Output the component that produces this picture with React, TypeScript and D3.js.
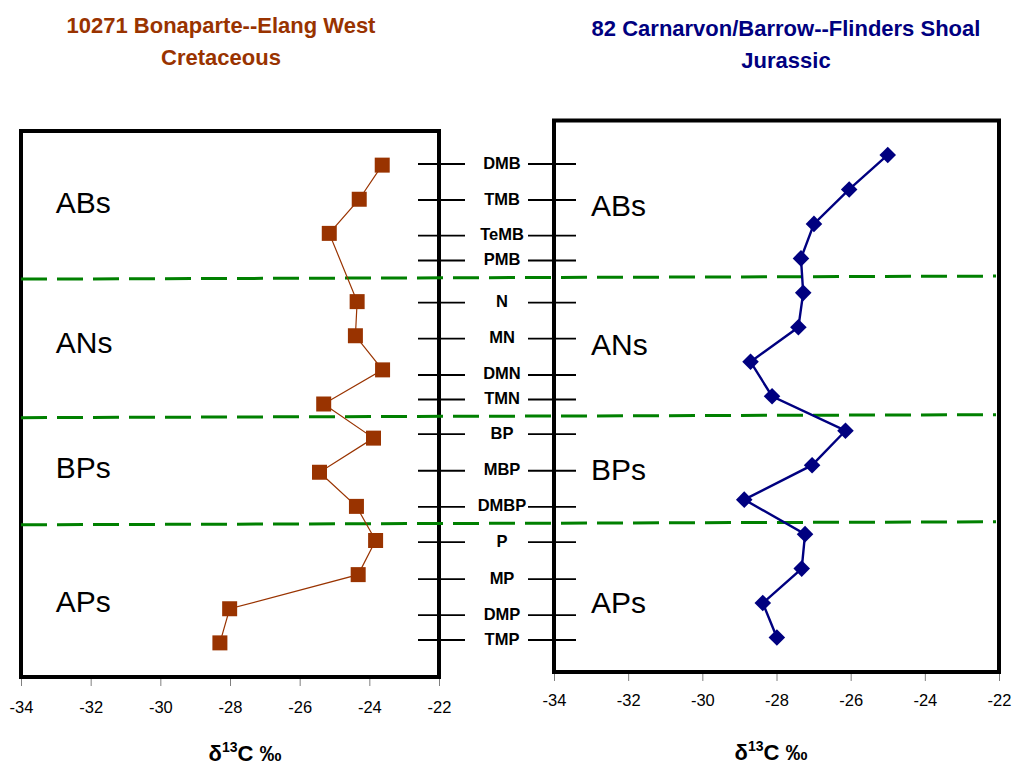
import * as d3 from "d3";
import React, { useRef, useEffect } from "react";

// stratigraphic stages, top to bottom
const stages = ["DMB", "TMB", "TeMB", "PMB", "N", "MN", "DMN", "TMN", "BP", "MBP", "DMBP", "P", "MP", "DMP", "TMP"];
// where each stage label sits in the middle column
const stagePos = [0, 1, 1.99, 2.68, 3.85, 4.85, 5.86, 6.54, 7.5, 8.52, 9.52, 10.5, 11.53, 12.53, 13.22];

// d13C values (null = no sample)
const bonaparte = [-23.63, -24.29, -25.15, null, -24.35, -24.4, -23.62, -25.31, -23.88, -25.43, -24.37, -23.82, -24.32, -28.01, -28.29];
const carnarvon = [-25.0, -26.04, -26.99, -27.34, -27.28, -27.41, -28.7, -28.12, -26.14, -27.04, -28.87, -27.23, -27.32, -28.37, -27.99];

const xTicks = [-34, -32, -30, -28, -26, -24, -22];

const zones = ["ABs", "ANs", "BPs", "APs"];
const zoneLabelLeft = [2.4, 6.51, 10.18, 14.1];
const zoneLabelRight = [2.77, 6.8, 10.43, 14.29];
const zoneBounds = [4.34, 8.4, 11.54];

const FONT = "Arial, 'Liberation Sans', sans-serif";

function App() {
    const ref = useRef(null);

    useEffect(() => {
        const svg = d3.select(ref.current);
        svg.selectAll("*").remove();

        const panels = [
            {
                values: bonaparte, xr: [21, 439], yr: [131, 677], color: "#993300",
                title: ["10271 Bonaparte--Elang West", "Cretaceous"], titleX: 221, titleY: 33,
                labelY: zoneLabelLeft, tickPad: 17, axisTitleX: 245, axisTitleY: 761,
                marker: d3.symbol().type(d3.symbolSquare).size(225), lineW: 1.2
            },
            {
                values: carnarvon, xr: [554, 999], yr: [120.5, 672], color: "#000080",
                title: ["82 Carnarvon/Barrow--Flinders Shoal", "Jurassic"], titleX: 786, titleY: 36,
                labelY: zoneLabelRight, tickPad: 15, axisTitleX: 771, axisTitleY: 760,
                marker: d3.symbol().type(d3.symbolDiamond2).size(175), lineW: 2.4
            }
        ];

        const scales = panels.map(p => ({
            x: d3.scaleLinear().domain([-34, -22]).range(p.xr),
            y: d3.scaleLinear().domain([0, 16]).range(p.yr)
        }));

        // frames + axes + titles
        panels.forEach((p, k) => {
            const { x, y } = scales[k];
            const g = svg.append("g");

            g.append("rect")
                .attr("x", p.xr[0]).attr("y", p.yr[0])
                .attr("width", p.xr[1] - p.xr[0]).attr("height", p.yr[1] - p.yr[0])
                .attr("fill", "none").attr("stroke", "black").attr("stroke-width", 4);

            const axis = g.append("g")
                .attr("transform", `translate(0,${p.yr[1]})`)
                .call(d3.axisBottom(x).tickValues(xTicks).tickSize(7).tickPadding(p.tickPad).tickFormat(d => String(d)));
            axis.select(".domain").remove();
            axis.selectAll("line").attr("stroke", "#808080").attr("transform", "translate(0,2)");
            axis.selectAll("text")
                .attr("font-family", FONT).attr("font-size", 16.5).attr("fill", "black");

            p.title.forEach((t, i) => {
                g.append("text")
                    .attr("x", p.titleX).attr("y", p.titleY + i * 32)
                    .attr("text-anchor", "middle")
                    .attr("font-family", FONT).attr("font-size", 22).attr("font-weight", "bold")
                    .attr("fill", p.color)
                    .text(t);
            });

            const at = g.append("text")
                .attr("x", p.axisTitleX).attr("y", p.axisTitleY)
                .attr("text-anchor", "middle")
                .attr("font-family", FONT).attr("font-size", 22).attr("font-weight", "bold");
            at.append("tspan").text("δ");
            at.append("tspan").attr("font-size", 14).attr("dy", -9).text("13");
            at.append("tspan").attr("dy", 9).text("C ‰");

            zones.forEach((z, i) => {
                g.append("text")
                    .attr("x", x(-33)).attr("y", y(p.labelY[i]))
                    .attr("font-family", FONT).attr("font-size", 30)
                    .text(z);
            });
        });

        // middle column: stage names with ticks on both frames
        const midY = d3.scaleLinear().domain([0, 13.22]).range([164, 640]);
        const mid = svg.append("g");
        stages.forEach((s, i) => {
            const yy = midY(stagePos[i]);
            mid.append("line").attr("x1", 418).attr("x2", 465).attr("y1", yy).attr("y2", yy)
                .attr("stroke", "black").attr("stroke-width", 1.8);
            mid.append("line").attr("x1", 528).attr("x2", 576).attr("y1", yy).attr("y2", yy)
                .attr("stroke", "black").attr("stroke-width", 1.8);
            mid.append("text")
                .attr("x", 502).attr("y", yy + 4.5)
                .attr("text-anchor", "middle")
                .attr("font-family", FONT).attr("font-size", 16.5).attr("font-weight", "bold")
                .text(s);
        });

        // zone boundaries (dashed green, spanning both panels)
        const yL = scales[0].y;
        svg.append("g")
            .selectAll("line")
            .data(zoneBounds)
            .enter()
            .append("line")
            .attr("x1", 21).attr("x2", 996)
            .attr("y1", d => yL(d)).attr("y2", d => yL(d) - 3)
            .attr("stroke", "#008000").attr("stroke-width", 3)
            .attr("stroke-dasharray", "26 10");

        // data series
        panels.forEach((p, k) => {
            const { x, y } = scales[k];
            const pts = p.values
                .map((v, i) => ({ v, i }))
                .filter(d => d.v !== null);

            const line = d3.line()
                .x(d => x(d.v))
                .y(d => y(d.i + 1));

            svg.append("path")
                .datum(pts)
                .attr("d", line)
                .attr("fill", "none")
                .attr("stroke", p.color)
                .attr("stroke-width", p.lineW);

            svg.append("g")
                .selectAll("path")
                .data(pts)
                .enter()
                .append("path")
                .attr("d", p.marker)
                .attr("transform", d => `translate(${x(d.v)},${y(d.i + 1)})`)
                .attr("fill", p.color);
        });
    }, []);

    return (
        <svg ref={ref} width={1021} height={771}
             style={{ position: "absolute", left: 0, top: 0, background: "white" }} />
    );
}

export default App;
